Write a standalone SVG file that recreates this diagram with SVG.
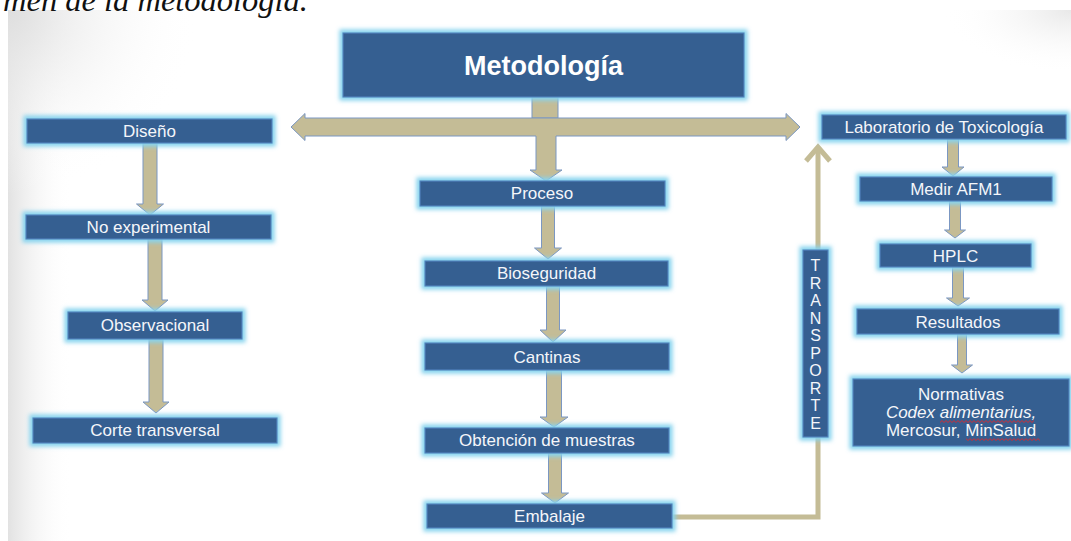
<svg xmlns="http://www.w3.org/2000/svg" width="1071" height="541" viewBox="0 0 1071 541">
<defs>
<linearGradient id="edgeL" x1="0" y1="0" x2="1" y2="0">
<stop offset="0" stop-color="#e2e2e2"/>
<stop offset="0.06" stop-color="#ffffff" stop-opacity="0"/>
</linearGradient>
<radialGradient id="cornerTL" cx="0" cy="0" r="1" gradientUnits="objectBoundingBox" gradientTransform="scale(0.18,0.35)">
<stop offset="0" stop-color="#dedede"/>
<stop offset="1" stop-color="#ffffff" stop-opacity="0"/>
</radialGradient>
<radialGradient id="cornerTR" cx="1" cy="0" r="1" gradientUnits="objectBoundingBox">
<stop offset="0" stop-color="#e8e8e8"/>
<stop offset="0.12" stop-color="#ffffff" stop-opacity="0"/>
</radialGradient>
<filter id="glow" x="-20%" y="-60%" width="140%" height="220%">
<feMorphology in="SourceAlpha" operator="dilate" radius="3" result="d"/>
<feGaussianBlur in="d" stdDeviation="2.2" result="b"/>
<feFlood flood-color="#86d3ee"/>
<feComposite in2="b" operator="in" result="g"/>
<feMerge><feMergeNode in="g"/><feMergeNode in="SourceGraphic"/></feMerge>
</filter>
<filter id="glowV" x="-60%" y="-10%" width="220%" height="120%">
<feMorphology in="SourceAlpha" operator="dilate" radius="3" result="d"/>
<feGaussianBlur in="d" stdDeviation="2.2" result="b"/>
<feFlood flood-color="#86d3ee"/>
<feComposite in2="b" operator="in" result="g"/>
<feMerge><feMergeNode in="g"/><feMergeNode in="SourceGraphic"/></feMerge>
</filter>
<pattern id="wavy" width="4" height="3" patternUnits="userSpaceOnUse">
<path d="M0,2.5 L2,0.6 L4,2.5" stroke="#e02828" fill="none" stroke-width="0.9"/>
</pattern>
</defs>
<style>
.box{fill:#365f91;stroke:#4f81bd;stroke-width:1.2;filter:url(#glow)}
.boxv{fill:#365f91;stroke:#4f81bd;stroke-width:1.2;filter:url(#glowV)}
.lbl{font-family:"Liberation Sans",Arial,sans-serif;font-size:17px;fill:#f4f6fa;text-anchor:middle}
.ttl{font-family:"Liberation Sans",Arial,sans-serif;font-size:27px;font-weight:bold;fill:#ffffff;text-anchor:middle}
.arr{fill:#c4bc96;stroke:#7b97c2;stroke-width:1}
.line{fill:none;stroke:#c4bc96;stroke-width:5}
</style>
<rect x="0" y="0" width="1071" height="541" fill="#ffffff"/>
<rect x="8" y="10" width="1063" height="531" fill="url(#edgeL)"/>
<rect x="8" y="10" width="1063" height="531" fill="url(#cornerTL)"/>
<rect x="8" y="10" width="1063" height="531" fill="url(#cornerTR)"/>
<text x="3" y="11" font-family="Liberation Serif,Times New Roman,serif" font-style="italic" font-size="31" fill="#111111" textLength="305" lengthAdjust="spacingAndGlyphs">men de la metodología.</text>

<g id="connectors">
<rect class="arr" x="532" y="97" width="26" height="21"/>
<path class="arr" d="M291,127 L305,113.5 L305,118 L786,118 L786,113.5 L800,127 L786,140.5 L786,136 L556,136 L556,170 L562,170 L546,181 L530,170 L536,170 L536,136 L305,136 L305,140.5 Z"/>
<path class="arr" d="M143,143 L157,143 L157,204 L163.5,204 L150,215 L136.5,204 L143,204 Z"/>
<path class="arr" d="M148,239 L162,239 L162,300 L168,300 L155,311 L142,300 L148,300 Z"/>
<path class="arr" d="M149,339 L163,339 L163,402 L169,402 L156,413 L143,402 L149,402 Z"/>
<path class="arr" d="M541.5,206 L554.5,206 L554.5,248 L561.5,248 L548,259 L534.5,248 L541.5,248 Z"/>
<path class="arr" d="M546.5,286 L559.5,286 L559.5,330 L566,330 L553,342 L540,330 L546.5,330 Z"/>
<path class="arr" d="M546.5,370 L561.5,370 L561.5,417 L568,417 L554,427 L540,417 L546.5,417 Z"/>
<path class="arr" d="M548.5,453 L561.5,453 L561.5,493 L568.5,493 L555,503 L541.5,493 L548.5,493 Z"/>
<path class="arr" d="M947.5,139 L958.5,139 L958.5,167 L964,167 L953,176 L942,167 L947.5,167 Z"/>
<path class="arr" d="M949.5,201 L960.5,201 L960.5,230 L965.5,230 L955,238 L944.5,230 L949.5,230 Z"/>
<path class="arr" d="M952.5,267 L963.5,267 L963.5,298 L969.5,298 L958,306 L946.5,298 L952.5,298 Z"/>
<path class="arr" d="M957.5,334 L966.5,334 L966.5,365 L972.5,365 L962,373 L951.5,365 L957.5,365 Z"/>
<polyline class="line" points="672,517 818,517 818,148"/>
<polyline class="line" points="806,161 818,147 830,161"/>
</g>

<g id="metodologia"><rect class="box" x="343" y="33" width="401" height="64"/><text class="ttl" x="543.5" y="75">Metodología</text></g>
<g id="diseno"><rect class="box" x="27" y="119" width="245" height="24"/><text class="lbl" x="149.5" y="137">Diseño</text></g>
<g id="no-experimental"><rect class="box" x="26" y="215" width="245" height="24"/><text class="lbl" x="148.5" y="233">No experimental</text></g>
<g id="observacional"><rect class="box" x="68" y="312" width="174" height="27"/><text class="lbl" x="155" y="330.5">Observacional</text></g>
<g id="corte-transversal"><rect class="box" x="33" y="418" width="244" height="25"/><text class="lbl" x="155" y="436">Corte transversal</text></g>
<g id="proceso"><rect class="box" x="420" y="181" width="245" height="25"/><text class="lbl" x="542" y="199">Proceso</text></g>
<g id="bioseguridad"><rect class="box" x="425" y="261" width="243" height="25"/><text class="lbl" x="546.5" y="279">Bioseguridad</text></g>
<g id="cantinas"><rect class="box" x="425" y="343" width="244" height="27"/><text class="lbl" x="547" y="362.5">Cantinas</text></g>
<g id="obtencion"><rect class="box" x="425" y="428" width="244" height="25"/><text class="lbl" x="547" y="446">Obtención de muestras</text></g>
<g id="embalaje"><rect class="box" x="427" y="504" width="245" height="24"/><text class="lbl" x="549.5" y="522">Embalaje</text></g>
<g id="transporte"><rect class="boxv" x="803" y="250" width="25" height="187"/>
<text class="lbl" x="815.5" style="font-size:16px"><tspan x="815.5" y="271">T</tspan><tspan x="815.5" y="288.5">R</tspan><tspan x="815.5" y="306">A</tspan><tspan x="815.5" y="323.5">N</tspan><tspan x="815.5" y="341">S</tspan><tspan x="815.5" y="358.5">P</tspan><tspan x="815.5" y="376">O</tspan><tspan x="815.5" y="393.5">R</tspan><tspan x="815.5" y="411">T</tspan><tspan x="815.5" y="428.5">E</tspan></text></g>
<g id="laboratorio"><rect class="box" x="822" y="115" width="244" height="24"/><text class="lbl" x="944" y="133">Laboratorio de Toxicología</text></g>
<g id="medir"><rect class="box" x="860" y="177" width="192" height="24"/><text class="lbl" x="956" y="195">Medir AFM1</text></g>
<g id="hplc"><rect class="box" x="880" y="244" width="151" height="23"/><text class="lbl" x="955.5" y="261.5">HPLC</text></g>
<g id="resultados"><rect class="box" x="857" y="309" width="202" height="25"/><text class="lbl" x="958" y="327.5">Resultados</text></g>
<g id="normativas"><rect class="box" x="853" y="379" width="216" height="67"/>
<text class="lbl" x="961" y="400">Normativas</text>
<text class="lbl" x="961" y="418" font-style="italic">Codex alimentarius,</text>
<text class="lbl" x="961" y="436">Mercosur, MinSalud</text>
<rect x="940" y="420" width="94" height="3" fill="url(#wavy)"/>
<rect x="966" y="438" width="74" height="3" fill="url(#wavy)"/>
</g>
</svg>
